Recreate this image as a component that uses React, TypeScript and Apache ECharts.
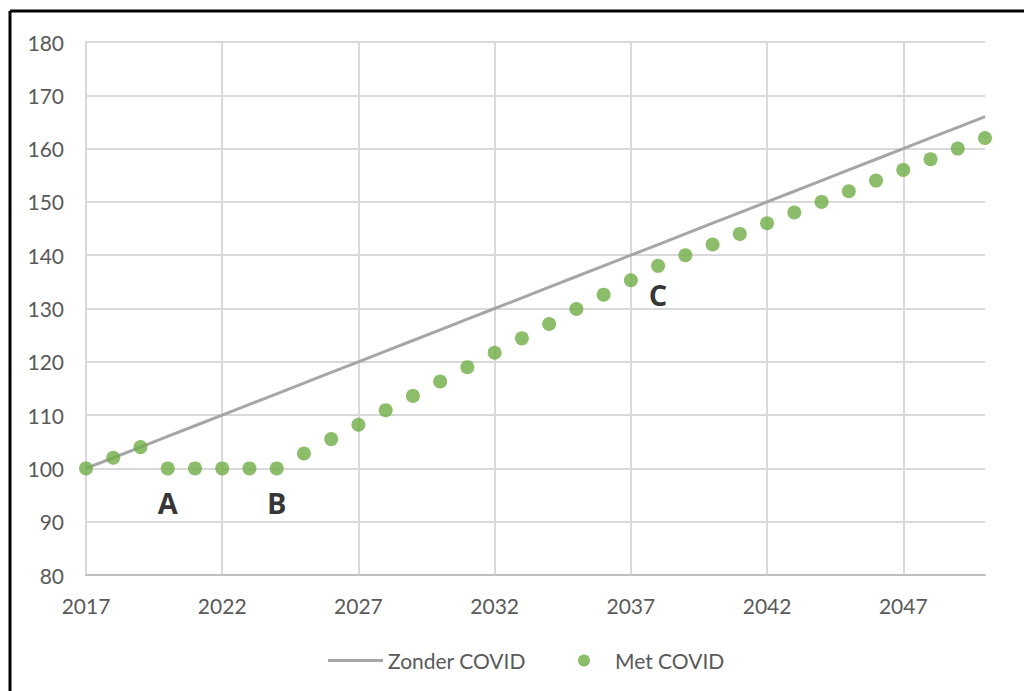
import React, { useEffect, useRef } from "react";
import * as echarts from "echarts";

const years: string[] = [
  "2017", "2018", "2019", "2020", "2021", "2022", "2023", "2024", "2025", "2026",
  "2027", "2028", "2029", "2030", "2031", "2032", "2033", "2034", "2035", "2036",
  "2037", "2038", "2039", "2040", "2041", "2042", "2043", "2044", "2045", "2046",
  "2047", "2048", "2049", "2050",
];

const zonderCovid: number[] = [
  100, 102, 104, 106, 108, 110, 112, 114, 116, 118,
  120, 122, 124, 126, 128, 130, 132, 134, 136, 138,
  140, 142, 144, 146, 148, 150, 152, 154, 156, 158,
  160, 162, 164, 166,
];

const metCovid: number[] = [
  100, 102, 104, 100, 100, 100, 100, 100, 102.8, 105.5,
  108.2, 110.9, 113.6, 116.3, 119, 121.7, 124.4, 127.1, 129.9, 132.6,
  135.3, 138, 140, 142, 144, 146, 148, 150, 152, 154,
  156, 158, 160, 162,
];

const annotLabels: string[] = ["A", "B", "C"];
const annotYears: string[] = ["2020", "2024", "2038"];
const annotValues: number[] = [93.6, 93.6, 132.6];

const seriesNames = ["Zonder COVID", "Met COVID"];

export default function App() {
  const ref = useRef<HTMLDivElement>(null);

  useEffect(() => {
    if (!ref.current) return;
    const chart = echarts.init(ref.current, null, { renderer: "svg" });
    const font = "Lato, 'Open Sans', sans-serif";
    const legendText = { color: "#595959", fontSize: 21, fontFamily: font };
    chart.setOption({
      animation: false,
      backgroundColor: "#ffffff",
      textStyle: { fontFamily: font },
      grid: { left: 86, right: 39, top: 42, bottom: 116, containLabel: false },
      xAxis: {
        type: "category",
        data: years,
        boundaryGap: false,
        axisLine: { show: true, lineStyle: { color: "#bfbfbf", width: 2 } },
        axisTick: { show: false },
        axisLabel: {
          interval: 4,
          color: "#595959",
          fontSize: 21,
          fontFamily: font,
          margin: 20,
        },
        splitLine: {
          show: true,
          interval: 4,
          lineStyle: { color: "#d9d9d9", width: 2 },
        },
      },
      yAxis: {
        type: "value",
        min: 80,
        max: 180,
        interval: 10,
        axisLine: { show: true, lineStyle: { color: "#d9d9d9", width: 2 } },
        axisTick: { show: false },
        axisLabel: {
          color: "#595959",
          fontSize: 21,
          fontFamily: font,
          margin: 22,
        },
        splitLine: { show: true, lineStyle: { color: "#d9d9d9", width: 2 } },
      },
      legend: [
        {
          data: [{ name: seriesNames[0], icon: "rect" }],
          left: 323,
          top: 645,
          itemWidth: 55,
          itemHeight: 3,
          textStyle: legendText,
        },
        {
          data: [{ name: seriesNames[1], icon: "circle" }],
          left: 573,
          top: 645,
          itemWidth: 12,
          itemHeight: 12,
          textStyle: { ...legendText, padding: [0, 0, 0, 20] },
        },
      ],
      series: [
        {
          name: seriesNames[0],
          type: "line",
          data: zonderCovid,
          symbol: "none",
          lineStyle: { color: "#a6a6a6", width: 3 },
          itemStyle: { color: "#a6a6a6" },
          z: 2,
        },
        {
          name: seriesNames[1],
          type: "scatter",
          data: metCovid,
          symbol: "circle",
          symbolSize: 14,
          itemStyle: { color: "#6fac45" },
          z: 3,
        },
        {
          name: "annotations",
          type: "scatter",
          symbolSize: 0,
          silent: true,
          data: annotLabels.map((l, i) => ({
            name: l,
            value: [annotYears[i], annotValues[i]],
          })),
          label: {
            show: true,
            position: "inside",
            formatter: (p: any) => p.name,
            color: "#000000",
            fontSize: 29,
            fontWeight: "bold",
            fontFamily: "'Open Sans', sans-serif",
          },
          z: 4,
        },
      ],
      graphic: [
        {
          type: "line",
          shape: { x1: 10, y1: 11, x2: 1030, y2: 11 },
          style: { stroke: "#000000", lineWidth: 3 },
        },
        {
          type: "line",
          shape: { x1: 10, y1: 11, x2: 10, y2: 700 },
          style: { stroke: "#000000", lineWidth: 3 },
        },
      ],
    });
    return () => chart.dispose();
  }, []);

  return (
    <div
      ref={ref}
      style={{ position: "fixed", left: 0, top: 0, width: 1024, height: 691 }}
    />
  );
}
